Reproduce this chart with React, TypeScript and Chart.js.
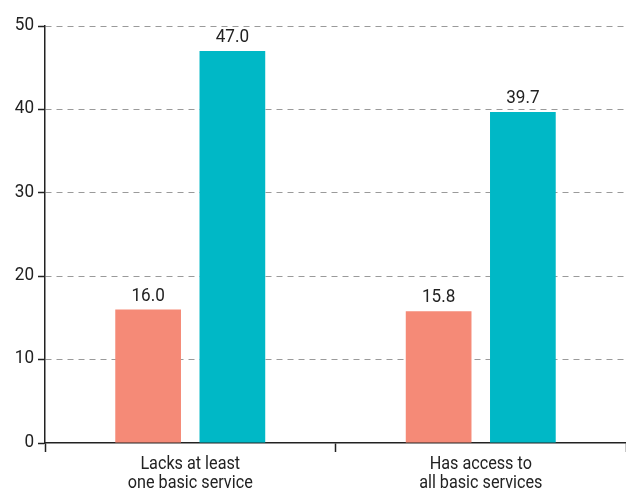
import React, { useEffect, useRef } from "react";
import { Chart, registerables } from "chart.js";

Chart.register(...registerables);

const categories: string[][] = [
  ["Lacks at least", "one basic service"],
  ["Has access to", "all basic services"],
];
const seriesA: number[] = [16.0, 15.8];
const seriesB: number[] = [47.0, 39.7];
const yTicks: number[] = [0, 10, 20, 30, 40, 50];

const FONT = "Roboto, 'Noto Sans', sans-serif";
const INK = "#222222";
const SQUEEZE = 0.9; // narrow the glyphs to a condensed look

function condensedText(
  ctx: CanvasRenderingContext2D,
  text: string,
  x: number,
  y: number,
  align: "left" | "center" | "right"
) {
  ctx.save();
  ctx.translate(x, y);
  ctx.scale(SQUEEZE, 1);
  ctx.textAlign = align;
  ctx.fillText(text, 0, 0);
  ctx.restore();
}

const valueLabels = {
  id: "valueLabels",
  afterDatasetsDraw(chart: any) {
    const ctx = chart.ctx;
    ctx.save();
    ctx.font = `19px ${FONT}`;
    ctx.fillStyle = INK;
    ctx.textBaseline = "alphabetic";
    chart.data.datasets.forEach((ds: any, di: number) => {
      const meta = chart.getDatasetMeta(di);
      meta.data.forEach((bar: any, i: number) => {
        condensedText(ctx, Number(ds.data[i]).toFixed(1), bar.x, bar.y - 9, "center");
      });
    });
    ctx.restore();
  },
};

const axisLabels = {
  id: "axisLabels",
  afterDraw(chart: any) {
    const ctx = chart.ctx;
    const ys = chart.scales.y;
    const xs = chart.scales.x;
    ctx.save();
    ctx.fillStyle = INK;
    ctx.textBaseline = "middle";
    ctx.font = `19px ${FONT}`;
    ys.ticks.forEach((t: any, i: number) => {
      const y = ys.getPixelForTick(i);
      condensedText(ctx, String(t.value), ys.right - 11, y - 1, "right");
    });
    ctx.textBaseline = "alphabetic";
    ctx.font = `18px ${FONT}`;
    categories.forEach((lines, i) => {
      const x = xs.getPixelForTick(i);
      lines.forEach((line, j) => {
        condensedText(ctx, line, x, xs.top + 26 + j * 19, "center");
      });
    });
    ctx.restore();
  },
};

export default function App() {
  const ref = useRef<HTMLCanvasElement>(null);

  useEffect(() => {
    document.body.style.margin = "0";
    const canvas = ref.current;
    if (!canvas) return;
    const chart = new Chart(canvas, {
      type: "bar",
      data: {
        labels: categories,
        datasets: [
          {
            data: seriesA,
            backgroundColor: "#F58A77",
            categoryPercentage: 0.58,
            barPercentage: 0.78,
          },
          {
            data: seriesB,
            backgroundColor: "#00B8C6",
            categoryPercentage: 0.58,
            barPercentage: 0.78,
          },
        ],
      },
      options: {
        animation: false,
        responsive: false,
        maintainAspectRatio: false,
        layout: { padding: { top: 26, right: 0, left: 0, bottom: 0 } },
        plugins: {
          legend: { display: false },
          tooltip: { enabled: false },
        },
        scales: {
          x: {
            grid: {
              offset: true,
              drawOnChartArea: false,
              drawTicks: true,
              tickLength: 9,
              tickColor: INK,
              tickWidth: 1.5,
            },
            border: { color: INK, width: 1.5 },
            ticks: {
              color: "rgba(0,0,0,0)",
              font: { family: FONT, size: 16, lineHeight: 1.25 },
              maxRotation: 0,
            },
            afterFit(scale: any) {
              scale.height = 49;
            },
          },
          y: {
            min: 0,
            max: 50,
            afterBuildTicks(scale: any) {
              scale.ticks = yTicks.map((v) => ({ value: v }));
            },
            grid: {
              color: (c: any) => (c.tick && c.tick.value === 0 ? "rgba(0,0,0,0)" : "#9a9a9a"),
              lineWidth: 1,
              drawTicks: true,
              tickLength: 7,
              tickColor: INK,
              tickBorderDash: [],
              tickWidth: 1.5,
            },
            border: { color: INK, width: 1.5, dash: [6, 5] },
            ticks: {
              color: "rgba(0,0,0,0)",
              font: { family: FONT, size: 16 },
              padding: 3,
            },
            afterFit(scale: any) {
              scale.width = 45;
            },
          },
        },
      },
      plugins: [valueLabels, axisLabels],
    });
    return () => chart.destroy();
  }, []);

  return (
    <div style={{ width: 626, height: 492 }}>
      <canvas ref={ref} width={626} height={492} style={{ display: "block" }} />
    </div>
  );
}
